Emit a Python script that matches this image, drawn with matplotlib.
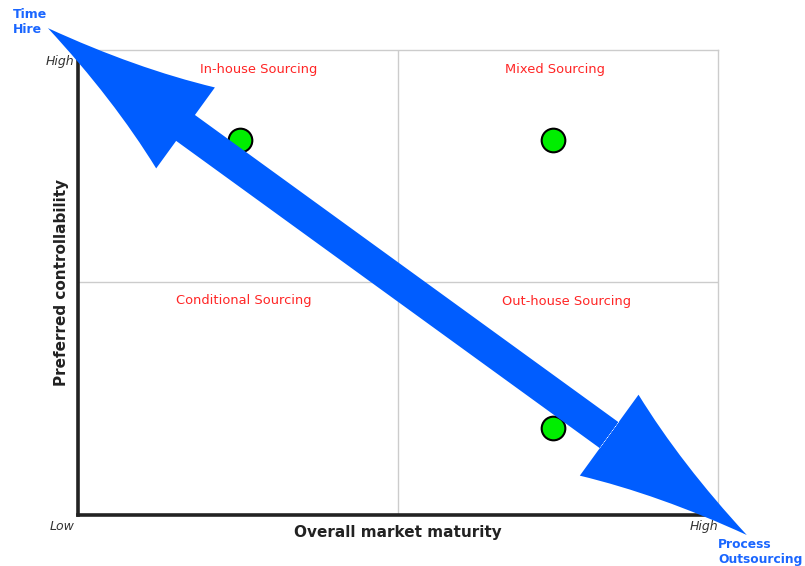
import numpy as np
import matplotlib
matplotlib.use("Agg")
import matplotlib.pyplot as plt
from matplotlib.path import Path
from matplotlib.patches import PathPatch
from matplotlib.transforms import IdentityTransform

# sourcing matrix: positions of the three cases (0..10 scale)
point_x = [2.53, 7.42, 7.42]
point_y = [8.06, 8.06, 1.87]

quadrant_labels = ["In-house Sourcing", "Mixed Sourcing", "Conditional Sourcing", "Out-house Sourcing"]
quadrant_x = [2.83, 7.45, 2.59, 7.64]
quadrant_y = [9.57, 9.57, 4.62, 4.60]

# ends of the double arrow (data coords, reaching past the frame)
arrow_start = (-0.47, 10.47)
arrow_end = (10.45, -0.43)

BLUE = "#005dff"
RED = "#ff2626"

fig = plt.figure(figsize=(8.05, 5.66), dpi=100)
ax = fig.add_axes([0.0969, 0.0901, 0.7950, 0.8216])
ax.set_xlim(0, 10)
ax.set_ylim(0, 10)
ax.set_xticks([])
ax.set_yticks([])

for s in ["left", "bottom"]:
    ax.spines[s].set_linewidth(2.6)
    ax.spines[s].set_color("#222222")
for s in ["top", "right"]:
    ax.spines[s].set_linewidth(1.0)
    ax.spines[s].set_color("#cccccc")

ax.axvline(5, color="#cccccc", lw=1.0, zorder=1)
ax.axhline(5, color="#cccccc", lw=1.0, zorder=1)


def double_arrow(p0, p1, head_len=170, head_w=50, shaft_w=16, bow=10):
    # build the arrow outline in pixel space so the heads keep their shape
    a = ax.transData.transform(p0)
    b = ax.transData.transform(p1)
    d = (b - a) / np.linalg.norm(b - a)
    n = np.array([-d[1], d[0]])

    def head(tip, u):
        base = tip + u * head_len
        w1 = base + n * head_w
        w2 = base - n * head_w
        c1 = (tip + w1) / 2 + u * bow - n * bow * 0.6
        c2 = (tip + w2) / 2 + u * bow + n * bow * 0.6
        return tip, c1, w1, c2, w2, base

    t1, c1a, w1a, c1b, w1b, base1 = head(a, d)
    t2, c2a, w2a, c2b, w2b, base2 = head(b, -d)

    verts = [t1, c1a, w1a, base1 + n * shaft_w, base2 + n * shaft_w, w2b, c2b, t2,
             c2a, w2a, base2 - n * shaft_w, base1 - n * shaft_w, w1b, c1b, t1, t1]
    codes = [Path.MOVETO, Path.CURVE3, Path.CURVE3, Path.LINETO, Path.LINETO, Path.LINETO,
             Path.CURVE3, Path.CURVE3, Path.CURVE3, Path.CURVE3, Path.LINETO, Path.LINETO,
             Path.LINETO, Path.CURVE3, Path.CURVE3, Path.CLOSEPOLY]
    patch = PathPatch(Path(verts, codes), facecolor=BLUE, edgecolor="none",
                      transform=IdentityTransform(), clip_on=False, zorder=3)
    fig.add_artist(patch)


double_arrow(arrow_start, arrow_end)

ax.scatter(point_x, point_y, s=290, color="#00ee00", edgecolor="black",
           linewidth=1.5, zorder=5, clip_on=False)

for lab, x, y in zip(quadrant_labels, quadrant_x, quadrant_y):
    ax.text(x, y, lab, color=RED, fontsize=9.4, ha="center", va="center", zorder=6)

ax.text(-0.06, 9.76, "High", fontsize=9, style="italic", color="#333333",
        ha="right", va="center")
ax.text(-0.05, -0.24, "Low", fontsize=9, style="italic", color="#333333",
        ha="right", va="center")
ax.text(10.0, -0.25, "High", fontsize=9, style="italic", color="#333333",
        ha="right", va="center")

ax.text(5.0, -0.38, "Overall market maturity", fontsize=11, fontweight="bold",
        color="#222222", ha="center", va="center")
ax.text(-0.26, 5.0, "Preferred controllability", fontsize=11, fontweight="bold",
        color="#222222", ha="center", va="center", rotation=90)

fig.text(13 / 805, 1 - 22 / 566, "Time\nHire", fontsize=9, fontweight="bold",
         color="#1a66ff", ha="left", va="center", linespacing=1.25)
fig.text(718 / 805, 1 - 552 / 566, "Process\nOutsourcing", fontsize=8.8,
         fontweight="bold", color="#1a66ff", ha="left", va="center", linespacing=1.25)

fig.savefig("out.png", dpi=100)
